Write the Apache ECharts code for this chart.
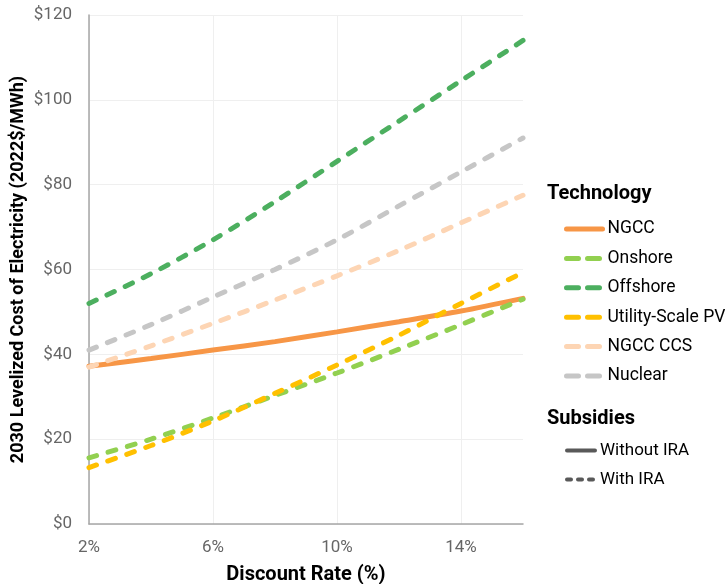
<!DOCTYPE html>
<html>
<head>
<meta charset="utf-8">
<script src="https://cdn.jsdelivr.net/npm/echarts@6/dist/echarts.min.js"></script>
<style>html,body{margin:0;padding:0;background:#fff}#c{width:725px;height:584px}</style>
</head>
<body>
<div id="c"></div>
<script>
const rates = [2, 4, 6, 8, 10, 12, 14, 16];
const ngcc = [37.2, 39.0, 41.0, 43.0, 45.3, 47.7, 50.2, 53.2];
const onshore = [15.6, 20.0, 25.0, 30.3, 35.6, 41.2, 47.0, 53.0];
const offshore = [52.0, 59.0, 67.0, 76.0, 85.5, 95.0, 104.5, 114.0];
const utilityPV = [13.3, 18.5, 24.3, 30.8, 37.5, 44.5, 52.0, 59.3];
const ngccCCS = [37.0, 42.0, 47.3, 52.8, 58.5, 64.5, 71.0, 77.5];
const nuclear = [41.0, 47.0, 53.5, 60.0, 67.0, 75.0, 83.0, 91.0];
const xTicks = [2, 6, 10, 14];
const yTicks = [0, 20, 40, 60, 80, 100, 120];

const techNames = ['NGCC', 'Onshore', 'Offshore', 'Utility-Scale PV', 'NGCC CCS', 'Nuclear'];
const techData = [ngcc, onshore, offshore, utilityPV, ngccCCS, nuclear];
const techColors = ['#F79646', '#92D050', '#4CAF5F', '#FFC000', '#FDD5B4', '#C6C6C6'];
const techDashed = [false, true, true, true, true, true];
const subsidyNames = ['Without IRA', 'With IRA'];

const pairs = arr => rates.map((r, i) => [r, arr[i]]);
const font = 'Roboto, "Noto Sans", sans-serif';

const series = techNames.map((n, i) => ({
  name: n, type: 'line', smooth: 0.3, symbol: 'none',
  data: pairs(techData[i]),
  lineStyle: { color: techColors[i], width: 5, type: techDashed[i] ? [8, 12] : 'solid', cap: 'round' },
  itemStyle: { color: techColors[i] },
  z: 3
}));
series.push({ name: subsidyNames[0], type: 'line', symbol: 'none', data: [], lineStyle: { color: '#595959', width: 4, type: 'solid', cap: 'round' }, itemStyle: { color: '#595959' } });
series.push({ name: subsidyNames[1], type: 'line', symbol: 'none', data: [], lineStyle: { color: '#595959', width: 4, type: [4, 8], cap: 'round' }, itemStyle: { color: '#595959' } });

const chart = echarts.init(document.getElementById('c'));
chart.setOption({
  animation: false,
  textStyle: { fontFamily: font },
  grid: { left: 89, right: 202, top: 15, bottom: 60, containLabel: false, outerBoundsMode: 'none' },
  xAxis: {
    type: 'value', min: xTicks[0], max: 16, interval: xTicks[1] - xTicks[0],
    name: 'Discount Rate (%)', nameLocation: 'middle', nameGap: 41,
    nameTextStyle: { fontFamily: font, fontSize: 20, fontWeight: 'bold', color: '#000' },
    axisLine: { show: true, lineStyle: { color: '#a6a6a6', width: 1.5 } },
    axisTick: { show: false },
    axisLabel: { formatter: v => xTicks.includes(v) ? v + '%' : '', fontSize: 17, color: '#666', margin: 15, showMaxLabel: false },
    splitLine: { show: true, showMaxLine: false, lineStyle: { color: '#efefef', width: 1 } }
  },
  yAxis: {
    type: 'value', min: yTicks[0], max: yTicks[yTicks.length - 1], interval: yTicks[1] - yTicks[0],
    name: '2030 Levelized Cost of Electricity (2022$/MWh)', nameLocation: 'middle', nameGap: 62, nameMoveOverlap: false,
    nameTextStyle: { fontFamily: font, fontSize: 18, fontWeight: 'bold', color: '#000' },
    axisLine: { show: true, lineStyle: { color: '#a6a6a6', width: 1.5 } },
    axisTick: { show: false },
    axisLabel: { formatter: v => '$' + v, fontSize: 17, color: '#666', margin: 17 },
    splitLine: { show: true, lineStyle: { color: '#efefef', width: 1 } }
  },
  legend: [
    {
      orient: 'vertical', left: 564, top: 220, padding: 0, itemWidth: 36, itemHeight: 14, itemGap: 11.4,
      textStyle: { fontSize: 17.5, color: '#000', fontFamily: font },
      itemStyle: { opacity: 0 },
      data: techNames.map((n, i) => ({
        name: n,
        itemStyle: { opacity: 0 },
        lineStyle: { color: techColors[i], width: 5, type: techDashed[i] ? [12, 9] : 'solid', cap: 'round', opacity: 1 }
      })),
      selectedMode: false
    },
    {
      orient: 'vertical', left: 565, top: 442, padding: 0, itemWidth: 28, itemHeight: 14, itemGap: 12,
      textStyle: { fontSize: 17, color: '#000', fontFamily: font },
      itemStyle: { opacity: 0 },
      data: subsidyNames.map((n, i) => ({
        name: n,
        itemStyle: { opacity: 0 },
        lineStyle: { color: '#595959', width: 4, type: i === 0 ? 'solid' : [4, 7], cap: 'round', opacity: 1 }
      })),
      selectedMode: false
    }
  ],
  graphic: [
    { type: 'text', left: 547, top: 184, style: { text: 'Technology', font: 'bold 20px ' + font, fill: '#000' } },
    { type: 'text', left: 547, top: 409, style: { text: 'Subsidies', font: 'bold 20px ' + font, fill: '#000' } }
  ],
  series: series
});
</script>
</body>
</html>
